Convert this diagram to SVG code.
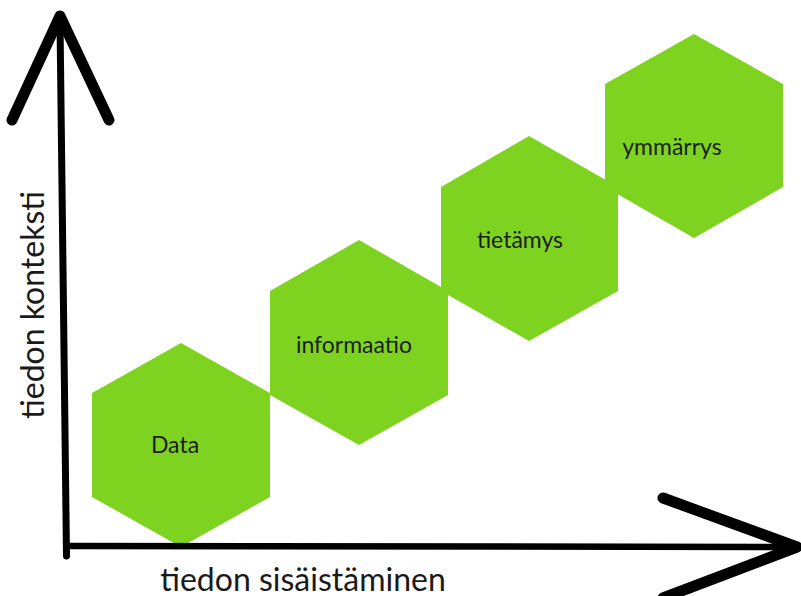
<svg xmlns="http://www.w3.org/2000/svg" width="801" height="596" viewBox="0 0 801 596">
  <style>
    .hex { fill: #7ed321; stroke: none; }
    .lbl { font-family: Lato, "Open Sans", "Liberation Sans", sans-serif; font-size: 23px; fill: #1c1c1c; text-anchor: middle; }
    .axis-lbl { font-family: Lato, "Open Sans", "Liberation Sans", sans-serif; font-size: 32px; fill: #1a1a1a; text-anchor: middle; }
    .axis { fill: none; stroke: #000; stroke-linecap: round; stroke-linejoin: round; }
  </style>
  <rect width="801" height="596" fill="#fff"/>
  <g id="node-data">
    <polygon class="hex" points="181,343 270,393 270,497 181,547 92,497 92,393"/>
    <text class="lbl" x="175" y="453">Data</text>
  </g>
  <g id="node-informaatio">
    <polygon class="hex" points="359,240 448,291 448,395 359,445 270,395 270,291"/>
    <text class="lbl" x="354" y="353">informaatio</text>
  </g>
  <g id="node-tietamys">
    <polygon class="hex" points="529,136 618,187 618,291 529,341 441,291 441,187"/>
    <text class="lbl" x="520" y="248">tietämys</text>
  </g>
  <g id="node-ymmarrys">
    <polygon class="hex" points="694,34 783,84 783,187 694,238 605,187 605,84"/>
    <text class="lbl" x="672" y="155">ymmärrys</text>
  </g>
  <g id="connectors">
    <path class="axis" stroke-width="7" d="M60,22 L66.5,556"/>
    <path class="axis" stroke-width="11" stroke-linejoin="miter" d="M12,120 L60,16 L109,120"/>
    <path class="axis" stroke-width="6.5" d="M68,546 L794,547"/>
    <path class="axis" stroke-width="11" stroke-linejoin="miter" d="M663,498 L797,547 L663,598"/>
  </g>
  <text class="axis-lbl" x="303" y="591">tiedon sisäistäminen</text>
  <text class="axis-lbl" transform="translate(44,305) rotate(-90)" x="0" y="0">tiedon konteksti</text>
</svg>
